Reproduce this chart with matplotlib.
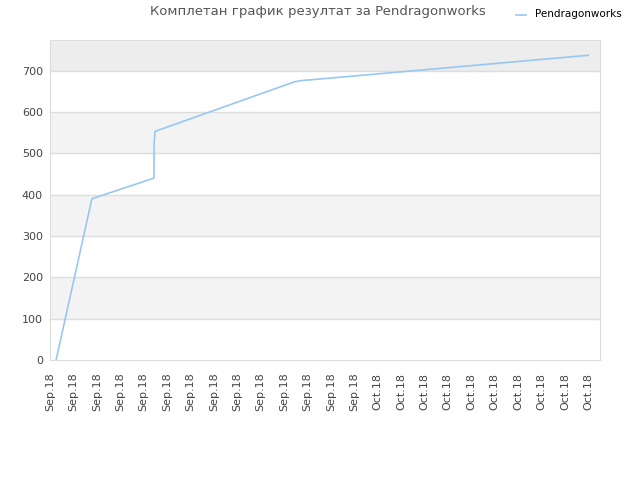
import matplotlib
matplotlib.use('Agg')
import matplotlib.pyplot as plt
from matplotlib.lines import Line2D

# data
x_pos = [0.26, 1.79, 4.44, 4.45, 4.49, 10.45, 10.75, 11.2, 23.0]
points = [0, 390, 440, 525, 553, 673, 676, 678, 737]
tick_labels = ['Sep.18'] * 14 + ['Oct.18'] * 10
title = 'Комплетан график резултат за Pendragonworks'
series_name = 'Pendragonworks'

fig = plt.figure(figsize=(6.4, 4.8), dpi=100)
ax = fig.add_axes([50 / 640, 120 / 480, 550 / 640, 320 / 480])

ymax = 774
# alternating background bands
for lo in range(0, 800, 100):
    if lo >= 700:
        c = '#ededed'
    elif (lo // 100) % 2 == 1:
        c = '#f3f3f3'
    else:
        c = 'white'
    ax.axhspan(lo, min(lo + 100, ymax), color=c, zorder=0, lw=0)
for yy in range(100, 800, 100):
    ax.axhline(yy, color='#dddddd', lw=1, zorder=1)

ax.plot(x_pos, points, color='#99c7f3', lw=1.2, zorder=3)

ax.set_xlim(0, 23.5)
ax.set_ylim(0, ymax)
ax.set_xticks(range(len(tick_labels)))
ax.set_xticklabels(tick_labels, rotation=90, fontsize=8, color='#444444')
ax.set_yticks(range(0, 800, 100))
ax.tick_params(axis='y', labelsize=8, labelcolor='#444444', pad=5)
ax.tick_params(axis='x', pad=9)
ax.tick_params(length=0)
for s in ax.spines.values():
    s.set_color('#dddddd')

fig.text(318 / 640, 1 - 12 / 480, title, ha='center', va='center',
         fontsize=9.5, color='#555555')
fig.add_artist(Line2D([516 / 640, 526 / 640], [1 - 15 / 480, 1 - 15 / 480],
                      color='#99c7f3', lw=1.2))
fig.text(535 / 640, 1 - 14 / 480, series_name, ha='left', va='center',
         fontsize=7.5, color='black')

fig.savefig('out.png', dpi=100)
